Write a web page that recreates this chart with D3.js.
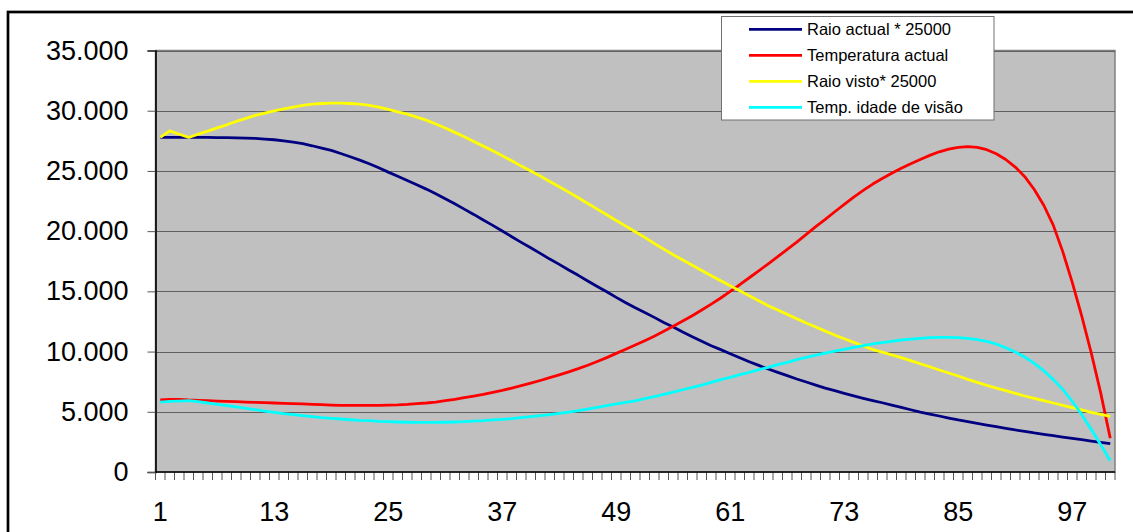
<!DOCTYPE html>
<html>
<head>
<meta charset="utf-8">
<script src="https://cdn.jsdelivr.net/npm/d3@7"></script>
<style>
  html, body { margin: 0; padding: 0; background: #fff; }
  svg { display: block; font-family: "Liberation Sans", Arial, sans-serif; }
</style>
</head>
<body>
<svg id="chart" width="1133" height="532"></svg>
<script>
// ---- data ----
const categories = d3.range(1, 102); // 1 .. 101
const xTickLabels = [1, 13, 25, 37, 49, 61, 73, 85, 97];
const yTicks = [0, 5000, 10000, 15000, 20000, 25000, 30000, 35000];
const seriesNames = ["Raio actual * 25000", "Temperatura actual", "Raio visto* 25000", "Temp. idade de visão"];
const seriesColors = ["#000080", "#FF0000", "#FFFF00", "#00FFFF"];

const raioActual = [
  27780, 27780, 27780, 27780, 27780, 27780, 27770, 27760, 27750, 27730,
  27700, 27640, 27590, 27500, 27390, 27260, 27090, 26900, 26700, 26450,
  26180, 25900, 25600, 25260, 24900, 24560, 24210, 23850, 23490, 23100,
  22690, 22270, 21830, 21390, 20920, 20480, 20010, 19540, 19070, 18620,
  18150, 17680, 17240, 16770, 16330, 15860, 15410, 14970, 14500, 14060,
  13640, 13250, 12840, 12420, 12040, 11620, 11230, 10850, 10490, 10160,
  9820, 9490, 9160, 8850, 8550, 8270, 8000, 7720, 7470, 7220,
  6970, 6750, 6530, 6320, 6120, 5930, 5750, 5560, 5370, 5170,
  4980, 4810, 4650, 4480, 4320, 4180, 4040, 3900, 3760, 3620,
  3490, 3380, 3240, 3130, 3020, 2900, 2790, 2680, 2570, 2460,
  2350
];
const temperaturaActual = [
  5980, 6030, 6030, 5980, 5950, 5920, 5890, 5870, 5840, 5810,
  5780, 5760, 5730, 5700, 5670, 5650, 5620, 5590, 5560, 5540,
  5530, 5530, 5530, 5540, 5550, 5570, 5610, 5670, 5730, 5810,
  5920, 6030, 6170, 6310, 6450, 6610, 6780, 6970, 7170, 7380,
  7600, 7830, 8070, 8320, 8580, 8860, 9170, 9500, 9850, 10190,
  10540, 10900, 11280, 11680, 12100, 12530, 12980, 13450, 13940, 14450,
  15000, 15550, 16130, 16710, 17290, 17880, 18480, 19090, 19730, 20370,
  20970, 21610, 22220, 22830, 23380, 23910, 24370, 24800, 25230, 25600,
  25950, 26290, 26590, 26810, 26950, 27010, 26950, 26760, 26430, 25950,
  25320, 24520, 23460, 22150, 20500, 18300, 15750, 12950, 9900, 6550,
  2800
];
const raioVisto = [
  27780, 28330, 28050, 27780, 28060, 28310, 28580, 28830, 29110, 29360,
  29610, 29800, 29990, 30160, 30300, 30440, 30550, 30600, 30630, 30630,
  30600, 30550, 30440, 30300, 30110, 29900, 29720, 29470, 29220, 28890,
  28560, 28200, 27840, 27450, 27060, 26670, 26260, 25840, 25400, 24990,
  24570, 24130, 23690, 23240, 22770, 22300, 21830, 21360, 20890, 20420,
  19950, 19480, 18980, 18510, 18040, 17600, 17160, 16740, 16300, 15880,
  15470, 15050, 14640, 14220, 13810, 13450, 13090, 12730, 12370, 12040,
  11700, 11370, 11070, 10760, 10460, 10170, 9960, 9730, 9500, 9250,
  8990, 8740, 8470, 8220, 7970, 7690, 7440, 7190, 6970, 6750,
  6530, 6310, 6120, 5920, 5730, 5530, 5340, 5150, 4950, 4790,
  4620
];
const tempIdadeVisao = [
  5810, 5870, 5890, 5920, 5840, 5730, 5620, 5510, 5400, 5290,
  5170, 5060, 4950, 4840, 4760, 4680, 4590, 4510, 4460, 4400,
  4340, 4290, 4260, 4210, 4180, 4150, 4130, 4120, 4120, 4120,
  4130, 4150, 4180, 4230, 4260, 4320, 4370, 4430, 4510, 4590,
  4680, 4760, 4870, 4980, 5090, 5230, 5370, 5510, 5650, 5780,
  5910, 6090, 6250, 6450, 6640, 6830, 7030, 7220, 7440, 7670,
  7860, 8080, 8270, 8500, 8690, 8910, 9100, 9330, 9520, 9710,
  9880, 10040, 10180, 10350, 10490, 10630, 10740, 10850, 10960, 11040,
  11100, 11150, 11180, 11180, 11150, 11100, 10990, 10850, 10630, 10320,
  9960, 9550, 9020, 8410, 7690, 6860, 5870, 4760, 3540, 2270,
  940
];
const seriesValues = [raioActual, temperaturaActual, raioVisto, tempIdadeVisao];

// ---- layout ----
const svg = d3.select("#chart");
const plot = { left: 155.5, right: 1115, top: 50.5, bottom: 472 };

const x = d3.scaleBand().domain(categories).range([plot.left, plot.right]).padding(0);
const y = d3.scaleLinear().domain([0, 35000]).range([plot.bottom, plot.top]);
const locale = d3.formatLocale({ decimal: ",", thousands: ".", grouping: [3], currency: ["", ""] });
const fmt = locale.format(",");

// outer chart border (right/bottom edges lie outside the window)
svg.append("rect")
  .attr("x", 8).attr("y", 12).attr("width", 1140).attr("height", 540)
  .attr("fill", "none").attr("stroke", "#000").attr("stroke-width", 2.7);

// plot area
svg.append("rect")
  .attr("x", plot.left).attr("y", plot.top)
  .attr("width", plot.right - plot.left).attr("height", plot.bottom - plot.top)
  .attr("fill", "#C0C0C0").attr("stroke", "#808080").attr("stroke-width", 1.5);

// gridlines
svg.append("g").selectAll("line")
  .data(yTicks.filter(d => d > 0))
  .join("line")
  .attr("x1", plot.left).attr("x2", plot.right)
  .attr("y1", d => Math.round(y(d)) + 0.5).attr("y2", d => Math.round(y(d)) + 0.5)
  .attr("stroke", "#606060").attr("stroke-width", 1);

// y axis
const yAxis = svg.append("g")
  .attr("transform", `translate(${plot.left},0)`)
  .call(d3.axisLeft(y).tickValues(yTicks).tickSize(8).tickPadding(19).tickFormat(fmt));
yAxis.select(".domain").attr("stroke", "#000").attr("stroke-width", 1.6);
yAxis.selectAll(".tick line").attr("stroke", "#555").attr("stroke-width", 1);
yAxis.selectAll(".tick text")
  .attr("font-size", 27).attr("fill", "#000")
  .attr("font-family", "'Liberation Sans', Arial, sans-serif");

// x axis: baseline, tick marks at category boundaries, labels every 12
const xg = svg.append("g");
const boundaries = categories.map(c => x(c)).concat([x(categories[categories.length - 1]) + x.bandwidth()]);
xg.selectAll("line.tk")
  .data(boundaries)
  .join("line")
  .attr("class", "tk")
  .attr("x1", d => d).attr("x2", d => d)
  .attr("y1", plot.bottom).attr("y2", plot.bottom + 8)
  .attr("stroke", "#555").attr("stroke-width", 1);
xg.append("line")
  .attr("x1", plot.left).attr("x2", plot.right)
  .attr("y1", plot.bottom).attr("y2", plot.bottom)
  .attr("stroke", "#000").attr("stroke-width", 1.6);
xg.selectAll("text")
  .data(xTickLabels)
  .join("text")
  .attr("x", d => x(d) + x.bandwidth() / 2)
  .attr("y", 521)
  .attr("text-anchor", "middle")
  .attr("font-size", 27)
  .attr("fill", "#000")
  .text(d => d);

// series lines
const line = d3.line()
  .x((d, i) => x(categories[i]) + x.bandwidth() / 2)
  .y(d => y(d));
svg.append("g").selectAll("path")
  .data(seriesValues)
  .join("path")
  .attr("d", d => line(d))
  .attr("fill", "none")
  .attr("stroke", (d, i) => seriesColors[i])
  .attr("stroke-width", 2.8)
  .attr("stroke-linejoin", "round");

// legend
const lg = svg.append("g");
lg.append("rect")
  .attr("x", 721.5).attr("y", 16.5).attr("width", 272.5).attr("height", 103.5)
  .attr("fill", "#fff").attr("stroke", "#707070").attr("stroke-width", 1);
const rows = lg.selectAll("g.row")
  .data(seriesNames)
  .join("g")
  .attr("class", "row")
  .attr("transform", (d, i) => `translate(0,${29.3 + i * 26})`);
rows.append("line")
  .attr("x1", 749).attr("x2", 802).attr("y1", 0).attr("y2", 0)
  .attr("stroke", (d, i) => seriesColors[i]).attr("stroke-width", 2.8);
rows.append("text")
  .attr("x", 807).attr("y", 6)
  .attr("font-size", 16.5).attr("fill", "#000")
  .text(d => d);
</script>
</body>
</html>
